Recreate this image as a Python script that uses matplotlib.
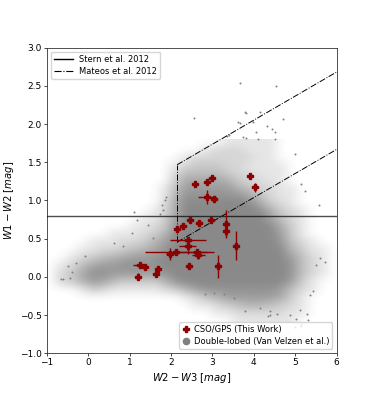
import numpy as np
import matplotlib
matplotlib.use('Agg')
import matplotlib.pyplot as plt
from matplotlib.colors import LinearSegmentedColormap, PowerNorm
from matplotlib.lines import Line2D

# CSO/GPS sources (this work): W2-W3, W1-W2 and their errors
cso_x = [3.90, 4.04, 2.57, 2.87, 2.98, 2.87, 3.05, 2.46, 2.68, 2.97,
         3.33, 3.33, 2.15, 2.30, 2.41, 2.40, 2.13, 1.97, 2.63, 2.66,
         3.57, 3.13, 2.43, 1.24, 1.38, 1.68, 1.65, 1.20]
cso_y = [1.32, 1.17, 1.22, 1.24, 1.30, 1.05, 1.02, 0.75, 0.70, 0.74,
         0.69, 0.60, 0.63, 0.67, 0.48, 0.40, 0.33, 0.30, 0.32, 0.29,
         0.41, 0.14, 0.14, 0.15, 0.135, 0.105, 0.035, 0.005]
cso_xerr = [0.05, 0.04, 0.05, 0.04, 0.05, 0.21, 0.06, 0.06, 0.07, 0.08,
            0.05, 0.05, 0.04, 0.05, 0.43, 0.20, 0.75, 0.10, 0.40, 0.15,
            0.05, 0.05, 0.05, 0.16, 0.06, 0.05, 0.05, 0.05]
cso_yerr = [0.04, 0.06, 0.03, 0.03, 0.03, 0.09, 0.03, 0.04, 0.03, 0.03,
            0.18, 0.07, 0.04, 0.03, 0.03, 0.10, 0.04, 0.08, 0.04, 0.05,
            0.19, 0.15, 0.03, 0.03, 0.03, 0.04, 0.04, 0.04]

# Double-lobed sample (Van Velzen et al.): point density,
# 0 = empty ... 9 = solid. columns: W2-W3 from -1 to 6 in steps of 0.25,
# rows: W1-W2 from 1.8 (top) down to -0.6 in steps of 0.1
dl_density = [
    "0000000000000000011111000000",
    "0000000000000001222111000000",
    "0000000000000122222211000000",
    "0000000000001233322111100000",
    "0000000000002444432211100000",
    "0000000000003666653221100000",
    "0000000000014777775422110000",
    "0000000000015888888642110000",
    "0000000000026999999963210000",
    "0000000000126999999996321000",
    "0000000001137999999997421000",
    "0000000011238999999999631000",
    "0000001112359999999999731000",
    "0000111223579999999999842100",
    "0001122345689999999999953110",
    "0012345677899999999999974210",
    "0124677888899999999999984210",
    "0236887777789999999999984210",
    "0235764333358999999999973100",
    "0001321111123578888888742100",
    "0000000000000124577777631000",
    "0000000000000011234554321000",
    "0000000000000000112222211000",
    "0000000000000000001111110000",
]
dl_x_edges = [-1.0, 6.0]
dl_y_edges = [-0.6, 1.8]

# isolated double-lobed sources outside the dense cloud
dl_out_x = [3.66, 4.54, 2.56, 3.78, 3.82, 4.14, 3.66, 3.62, 3.98, 4.31,
            4.70, 4.43, 4.51, 4.06, 3.74, 3.82, 4.10, 4.51, 3.41, 3.36,
            5.00, 5.14, 5.23, 5.57, 5.60, 5.73, 5.50,
            1.11, 1.17, 1.07, 1.45, 0.85, 1.57, 1.74, 1.81, 1.78, 1.86,
            1.88, -0.07, -0.30, -0.48, -0.38, -0.65, -0.60, -0.43, 0.62,
            3.78, 4.14, 4.39, 4.55, 4.35, 4.87, 5.12, 5.28, 5.32, 5.03,
            2.83, 3.05, 3.28, 3.52, 5.36, 5.44, 4.99, 5.13, 5.15, 4.40]
dl_out_y = [2.54, 2.50, 2.08, 2.16, 2.14, 2.16, 2.02, 2.03, 2.03, 1.98,
            2.06, 1.93, 1.89, 1.90, 1.83, 1.82, 1.80, 1.80, 1.86, 1.84,
            1.61, 1.22, 1.13, 0.94, 0.25, 0.20, 0.16,
            0.85, 0.75, 0.57, 0.68, 0.40, 0.51, 0.82, 0.88, 0.94, 1.00,
            1.04, 0.27, 0.18, 0.14, 0.07, -0.03, -0.03, -0.02, 0.45,
            -0.45, -0.41, -0.45, -0.48, -0.51, -0.50, -0.43, -0.48, -0.56, -0.55,
            -0.23, -0.21, -0.23, -0.28, -0.24, -0.19, -0.65, -0.62, -0.64, -0.50]

# selection criteria
stern_cut = 0.8
mateos_x0 = 2.15
mateos_slope = 0.315
mateos_top = 0.791
mateos_bot = -0.222

fig = plt.figure(figsize=(3.74, 3.97), dpi=100)
ax = fig.add_subplot(111)

grid = np.array([[int(c) for c in row] for row in dl_density], dtype=float)
gray_cmap = LinearSegmentedColormap.from_list(
    'dl', [(0.5, 0.5, 0.5, 0.0), (0.5, 0.5, 0.5, 0.92)])
ax.imshow(grid, cmap=gray_cmap, norm=PowerNorm(gamma=0.7, vmin=0, vmax=9),
          origin='upper',
          extent=[dl_x_edges[0], dl_x_edges[1], dl_y_edges[0], dl_y_edges[1]],
          interpolation='bicubic', aspect='auto', zorder=1)
ax.scatter(dl_out_x, dl_out_y, s=2, color='gray', linewidths=0, zorder=1)

# Stern et al. 2012
ax.axhline(stern_cut, color='k', lw=1.0, alpha=0.7, zorder=3)

# Mateos et al. 2012 wedge
xw = np.array([mateos_x0, 6.0])
ax.plot(xw, mateos_slope * xw + mateos_top, color='k', ls='-.', lw=0.7, zorder=3)
ax.plot(xw, mateos_slope * xw + mateos_bot, color='k', ls='-.', lw=0.7, zorder=3)
ax.plot([mateos_x0, mateos_x0],
        [mateos_slope * mateos_x0 + mateos_bot, mateos_slope * mateos_x0 + mateos_top],
        color='k', ls='-.', lw=0.7, zorder=3)

ax.errorbar(cso_x, cso_y, xerr=cso_xerr, yerr=cso_yerr, fmt='P',
            color='darkred', ms=5, elinewidth=1.0, capsize=0, zorder=4)

ax.set_xlim(-1, 6)
ax.set_ylim(-1, 3)
ax.set_xticks(range(-1, 7))
ax.set_yticks(np.arange(-1.0, 3.01, 0.5))
ax.tick_params(labelsize=6.5, length=2, width=0.5, pad=1.5)
for sp in ax.spines.values():
    sp.set_linewidth(0.6)
    sp.set_color('#333333')
ax.set_xlabel(r'$W2-W3$ [$mag$]', fontsize=7.2, labelpad=3)
ax.set_ylabel(r'$W1-W2$ [$mag$]', fontsize=7.2, labelpad=3)

line_handles = [Line2D([], [], color='k', lw=1.0),
                Line2D([], [], color='k', lw=0.8, ls='-.')]
leg1 = ax.legend(line_handles, ['Stern et al. 2012', 'Mateos et al. 2012'],
                 loc='upper left', fontsize=6, handlelength=2.2, borderpad=0.4,
                 labelspacing=0.3)
ax.add_artist(leg1)

pt_handles = [Line2D([], [], color='darkred', marker='P', ls='', ms=5),
              Line2D([], [], color='gray', marker='o', ls='', ms=4.5)]
ax.legend(pt_handles, ['CSO/GPS (This Work)', 'Double-lobed (Van Velzen et al.)'],
          loc='lower right', fontsize=6, handlelength=0.8, borderpad=0.4,
          labelspacing=0.3, handletextpad=0.5)

fig.savefig('out.png', dpi=100)
